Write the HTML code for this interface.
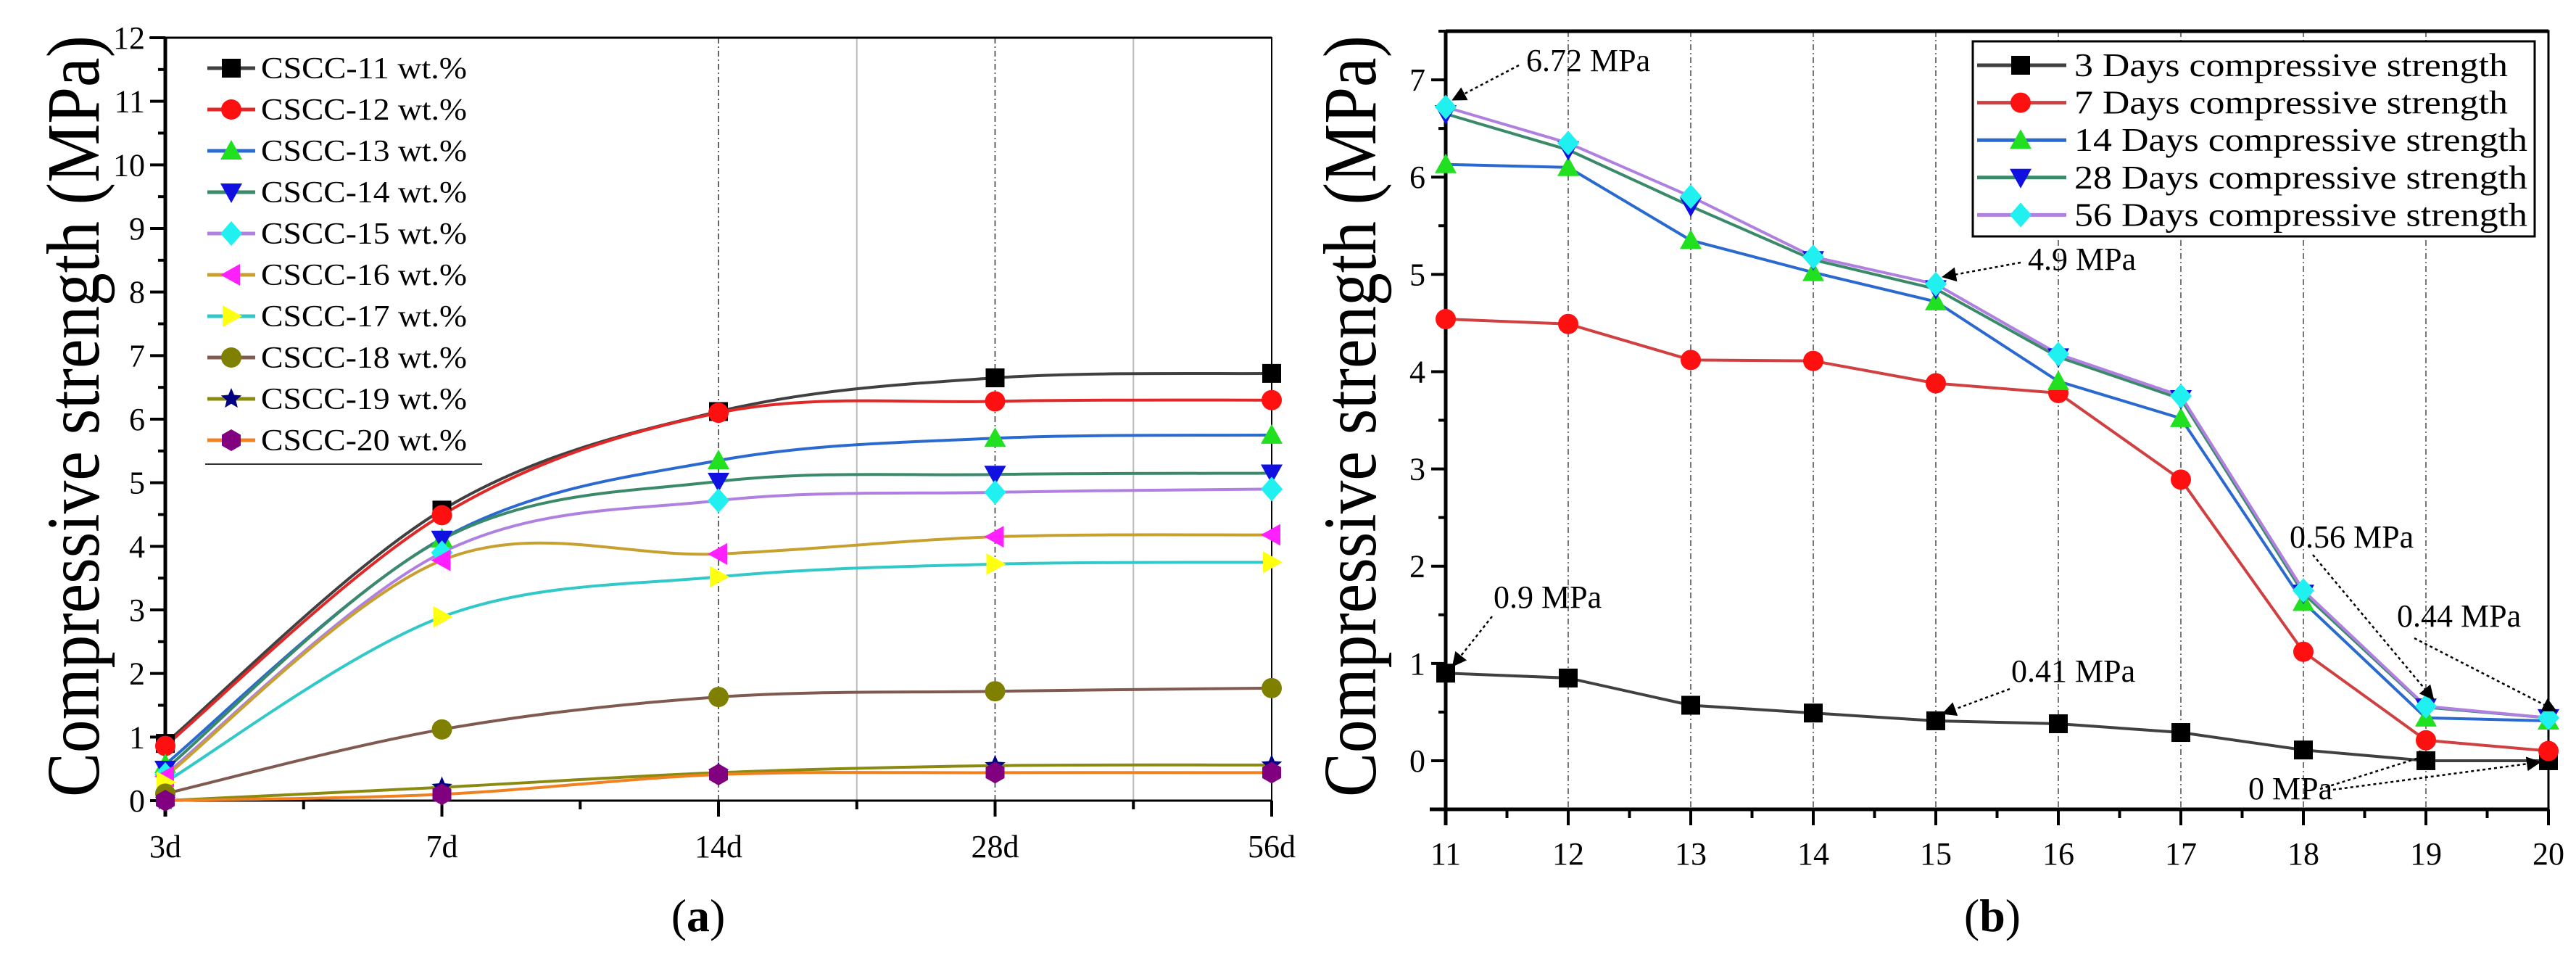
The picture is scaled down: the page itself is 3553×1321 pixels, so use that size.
<!DOCTYPE html>
<html><head><meta charset="utf-8"><style>
html,body{margin:0;padding:0;background:#fff;}
svg{display:block;font-family:"Liberation Serif",serif;}
text{font-family:"Liberation Serif",serif;}
</style></head><body>
<svg id="fig" width="3553" height="1321" viewBox="0 0 3553 1321" xmlns="http://www.w3.org/2000/svg">
<g id="chartA"></g>
<g id="chartB"></g>
</svg>
<script>
// ---------- Chart (a) data ----------
const catsA = ["3d","7d","14d","28d","56d"];
const namesA = ["CSCC-11 wt.%","CSCC-12 wt.%","CSCC-13 wt.%","CSCC-14 wt.%","CSCC-15 wt.%","CSCC-16 wt.%","CSCC-17 wt.%","CSCC-18 wt.%","CSCC-19 wt.%","CSCC-20 wt.%"];
const a11 = [0.9, 4.57, 6.12, 6.65, 6.72];
const a12 = [0.86, 4.49, 6.1, 6.28, 6.3];
const a13 = [0.57, 4.12, 5.35, 5.7, 5.75];
const a14 = [0.49, 4.11, 5.02, 5.13, 5.15];
const a15 = [0.41, 3.9, 4.72, 4.85, 4.9];
const a16 = [0.38, 3.78, 3.88, 4.15, 4.18];
const a17 = [0.29, 2.89, 3.52, 3.72, 3.75];
const a18 = [0.11, 1.12, 1.63, 1.72, 1.77];
const a19 = [0, 0.21, 0.44, 0.55, 0.56];
const a20 = [0, 0.1, 0.41, 0.44, 0.44];
const yTicksA = [0,1,2,3,4,5,6,7,8,9,10,11,12];
// ---------- Chart (b) data ----------
const catsB = [11,12,13,14,15,16,17,18,19,20];
const namesB = ["3 Days compressive strength","7 Days compressive strength","14 Days compressive strength","28 Days compressive strength","56 Days compressive strength"];
const b3 = [0.9, 0.85, 0.57, 0.49, 0.41, 0.38, 0.29, 0.11, 0, 0];
const b7 = [4.54, 4.49, 4.12, 4.11, 3.88, 3.78, 2.89, 1.12, 0.21, 0.1];
const b14 = [6.13, 6.1, 5.35, 5.02, 4.72, 3.9, 3.52, 1.63, 0.44, 0.41];
const b28 = [6.65, 6.28, 5.7, 5.15, 4.85, 4.15, 3.72, 1.72, 0.55, 0.44];
const b56 = [6.72, 6.35, 5.8, 5.18, 4.9, 4.18, 3.75, 1.75, 0.56, 0.44];
const yTicksB = [0,1,2,3,4,5,6,7];
const annotText = ["6.72 MPa","4.9 MPa","0.9 MPa","0.41 MPa","0.56 MPa","0.44 MPa","0 MPa"];

const NS="http://www.w3.org/2000/svg";
const FF='"Liberation Serif", serif';
function mk(parent,tag,attrs,text){const e=document.createElementNS(NS,tag);for(const k in attrs)e.setAttribute(k,attrs[k]);if(tag==="text")e.setAttribute("font-family",FF);if(text!==undefined)e.textContent=text;parent.appendChild(e);return e;}

function marker(g,type,x,y,fill){
  const s=15;let e;
  if(type==="square") e=mk(g,"rect",{x:x-s+2,y:y-s+2,width:2*s-4,height:2*s-4,fill:fill});
  else if(type==="circle") e=mk(g,"circle",{cx:x,cy:y,r:s-1,fill:fill});
  else if(type==="up") e=mk(g,"polygon",{points:`${x},${y-s} ${x+s},${y+s-3} ${x-s},${y+s-3}`,fill:fill});
  else if(type==="down") e=mk(g,"polygon",{points:`${x-s},${y-s+3} ${x+s},${y-s+3} ${x},${y+s}`,fill:fill});
  else if(type==="diamond") e=mk(g,"polygon",{points:`${x},${y-s-2} ${x+s},${y} ${x},${y+s+2} ${x-s},${y}`,fill:fill});
  else if(type==="left") e=mk(g,"polygon",{points:`${x-s},${y} ${x+s-3},${y-s} ${x+s-3},${y+s}`,fill:fill});
  else if(type==="right") e=mk(g,"polygon",{points:`${x+s},${y} ${x-s+3},${y-s} ${x-s+3},${y+s}`,fill:fill});
  else if(type==="hex") e=mk(g,"polygon",{points:[0,1,2,3,4,5].map(i=>{const a=Math.PI/3*i+Math.PI/6;return (x+s*Math.cos(a))+","+(y+s*Math.sin(a));}).join(" "),fill:fill});
  else if(type==="star"){let p=[];for(let i=0;i<10;i++){const r=i%2?s*0.45:s;const a=-Math.PI/2+i*Math.PI/5;p.push((x+r*Math.cos(a))+","+(y+r*Math.sin(a)));}e=mk(g,"polygon",{points:p.join(" "),fill:fill});}
  else e=mk(g,"circle",{cx:x,cy:y,r:s,fill:fill});
  
  
  return e;
}

// ================= Chart A =================
(function(){
  const g=document.getElementById("chartA");
  const L=228,R=1754,T=52,B=1104,ymin=0,ymax=12;
  const xS=i=>L+i*(R-L)/(catsA.length-1);
  const yS=v=>B-(v-ymin)/(ymax-ymin)*(B-T);
  const series=[a11,a12,a13,a14,a15,a16,a17,a18,a19,a20];
  const lineC=["#404040","#e02828","#2a6ad0","#3a8a6a","#b080e0","#c8a030","#30c8c8","#805a50","#8a8a10","#f08020"];
  const markC=["#000000","#ff1010","#20e020","#1010e0","#20f0f0","#ff20ff","#ffff10","#808000","#000080","#800080"];
  const mType=["square","circle","up","down","diamond","left","right","circle","star","hex"];
  [2,3].forEach(i=>{const l=mk(g,"line",{x1:xS(i),x2:xS(i),y1:T,y2:B,stroke:"#666","stroke-width":2,"stroke-dasharray":"8 4 2 4"});});
  [2.5,3.5].forEach(i=>{const l=mk(g,"line",{x1:xS(i),x2:xS(i),y1:T,y2:B,stroke:"#bbb","stroke-width":2});});
  const fr=mk(g,"rect",{x:L,y:T,width:R-L,height:B-T,fill:"none",stroke:"#000","stroke-width":2});
  
  mk(g,"line",{x1:L,x2:L,y1:T,y2:B+22,stroke:"#000","stroke-width":5});
  mk(g,"line",{x1:L-22,x2:R,y1:T,y2:T,stroke:"#000","stroke-width":3});
  mk(g,"line",{x1:L,x2:R,y1:B,y2:B,stroke:"#000","stroke-width":3});
  yTicksA.forEach(v=>{
    mk(g,"line",{x1:L-21,x2:L,y1:yS(v),y2:yS(v),stroke:"#000","stroke-width":4});
    if(v<12) mk(g,"line",{x1:L-10,x2:L,y1:yS(v+0.5),y2:yS(v+0.5),stroke:"#000","stroke-width":4});
    const t=mk(g,"text",{x:L-28,y:yS(v)+15,"text-anchor":"end","font-size":44},String(v));
    
  });
  catsA.forEach((c,i)=>{
    mk(g,"line",{x1:xS(i),x2:xS(i),y1:B,y2:B+22,stroke:"#000","stroke-width":4});
    if(i<catsA.length-1) mk(g,"line",{x1:xS(i+0.5),x2:xS(i+0.5),y1:B,y2:B+12,stroke:"#000","stroke-width":4});
    const t=mk(g,"text",{x:xS(i),y:B+78,"text-anchor":"middle","font-size":44},c);
    
  });
  series.forEach((s,k)=>{
    const pts=s.map((v,i)=>[xS(i),yS(v)]);
    let d="M"+pts[0][0]+","+pts[0][1];
    for(let i=0;i<pts.length-1;i++){
      const p0=pts[Math.max(0,i-1)],p1=pts[i],p2=pts[i+1],p3=pts[Math.min(pts.length-1,i+2)];
      const c1=[p1[0]+(p2[0]-p0[0])/6,p1[1]+(p2[1]-p0[1])/6];
      const c2=[p2[0]-(p3[0]-p1[0])/6,p2[1]-(p3[1]-p1[1])/6];
      d+=` C${c1[0]},${c1[1]} ${c2[0]},${c2[1]} ${p2[0]},${p2[1]}`;
    }
    const p=mk(g,"path",{d:d,fill:"none",stroke:lineC[k],"stroke-width":4});
    
  });
  series.forEach((s,k)=>s.forEach((v,i)=>marker(g,mType[k],xS(i),yS(v),markC[k])));
  const lg=mk(g,"g",{});
  
  namesA.forEach((n,k)=>{
    const y=94+k*57;
    mk(lg,"line",{x1:286,x2:352,y1:y,y2:y,stroke:lineC[k],"stroke-width":5});
    marker(lg,mType[k],319,y,markC[k]);
    const t=mk(lg,"text",{x:360,y:y+14,"font-size":42,textLength:284,lengthAdjust:"spacingAndGlyphs"},n);
    
  });
  mk(lg,"line",{x1:283,x2:665,y1:640,y2:640,stroke:"#333","stroke-width":2});
  const yt=mk(g,"text",{transform:"translate(136,574) rotate(-90)","text-anchor":"middle","font-size":104,textLength:1050,lengthAdjust:"spacingAndGlyphs"},"Compressive strength (MPa)");
  
  const cap=mk(g,"text",{x:963,y:1284,"text-anchor":"middle","font-size":64},"");
  
  mk(cap,"tspan",{},"(");mk(cap,"tspan",{"font-weight":"bold"},"a");mk(cap,"tspan",{},")");
})();

// ================= Chart B =================
(function(){
  const g=document.getElementById("chartB");
  const L=1994,R=3515,T=43,B=1116,ymin=-0.5,ymax=7.5;
  const xS=v=>L+(v-catsB[0])/(catsB[catsB.length-1]-catsB[0])*(R-L);
  const yS=v=>B-(v-ymin)/(ymax-ymin)*(B-T);
  const series=[b3,b7,b14,b28,b56];
  const lineC=["#404040","#d04040","#2a6ad0","#3a8a6a","#b080e0"];
  const markC=["#000000","#ff1010","#20e020","#1010e0","#20f0f0"];
  const mType=["square","circle","up","down","diamond"];
  catsB.slice(1,-1).forEach(c=>{const l=mk(g,"line",{x1:xS(c),x2:xS(c),y1:T,y2:B,stroke:"#777","stroke-width":2,"stroke-dasharray":"8 4 2 4"});});
  const fr=mk(g,"rect",{x:L,y:T,width:R-L,height:B-T,fill:"none",stroke:"#000","stroke-width":3});
  
  mk(g,"line",{x1:L,x2:L,y1:T,y2:B+22,stroke:"#000","stroke-width":5});
  mk(g,"line",{x1:L-22,x2:R,y1:B,y2:B,stroke:"#000","stroke-width":5});
  mk(g,"line",{x1:L,x2:R,y1:T,y2:T,stroke:"#000","stroke-width":5});
  yTicksB.forEach(v=>{
    mk(g,"line",{x1:L-20,x2:L,y1:yS(v),y2:yS(v),stroke:"#000","stroke-width":4});
    mk(g,"line",{x1:L-10,x2:L,y1:yS(v+0.5),y2:yS(v+0.5),stroke:"#000","stroke-width":4});
    const t=mk(g,"text",{x:L-28,y:yS(v)+15,"text-anchor":"end","font-size":44},String(v));
    
  });
  mk(g,"line",{x1:L-10,x2:L,y1:yS(-0.5),y2:yS(-0.5),stroke:"#000","stroke-width":4});
  catsB.forEach((c,i)=>{
    mk(g,"line",{x1:xS(c),x2:xS(c),y1:B,y2:B+22,stroke:"#000","stroke-width":4});
    if(i<catsB.length-1) mk(g,"line",{x1:xS(c+0.5),x2:xS(c+0.5),y1:B,y2:B+12,stroke:"#000","stroke-width":4});
    const t=mk(g,"text",{x:xS(c),y:B+76,"text-anchor":"middle","font-size":44},String(c));
    
  });
  series.forEach((s,k)=>{
    const p=mk(g,"polyline",{points:s.map((v,i)=>xS(catsB[i])+","+yS(v)).join(" "),fill:"none",stroke:lineC[k],"stroke-width":4});
    
  });
  series.forEach((s,k)=>s.forEach((v,i)=>marker(g,mType[k],xS(catsB[i]),yS(v),markC[k])));
  const defs=mk(g,"defs",{});
  const m=mk(defs,"marker",{id:"arr",viewBox:"0 0 10 10",refX:9,refY:5,markerWidth:8,markerHeight:8,orient:"auto-start-reverse"});
  mk(m,"path",{d:"M0,0 L10,5 L0,10 z",fill:"#000"});
  const ann=[
    [annotText[0],2105,98,2095,90,11,b56[0]],
    [annotText[1],2797,372,2787,362,15,b56[4]],
    [annotText[2],2060,838,2058,850,11,b3[0]],
    [annotText[3],2774,940,2772,950,15,b3[4]],
    [annotText[4],3158,755,3190,765,19,b56[8]],
    [annotText[5],3306,864,3330,880,20,b56[9]],
    [annotText[6],3101,1102,3200,1088,19,b3[8]]
  ];
  ann.forEach(a=>{
    const t=mk(g,"text",{x:a[1],y:a[2],"font-size":44},a[0]);
    
    const l=mk(g,"line",{x1:a[3],y1:a[4],x2:xS(a[5])+10,y2:yS(a[6])-10,stroke:"#000","stroke-width":2.5,"stroke-dasharray":"4 4","marker-end":"url(#arr)"});
    
  });
  const l2=mk(g,"line",{x1:3210,y1:1090,x2:xS(20)-12,y2:yS(b3[9])+2,stroke:"#000","stroke-width":2.5,"stroke-dasharray":"4 4","marker-end":"url(#arr)"});
  
  const lg=mk(g,"g",{});
  
  mk(lg,"rect",{x:2721,y:57,width:775,height:269,fill:"#fff",stroke:"#000","stroke-width":3});
  namesB.forEach((n,k)=>{
    const y=90+k*51.6;
    mk(lg,"line",{x1:2727,x2:2850,y1:y,y2:y,stroke:lineC[k],"stroke-width":5});
    marker(lg,mType[k],2787,y,markC[k]);
    const w=n.length===27?598:625;
    const t=mk(lg,"text",{x:2861,y:y+15,"font-size":45,textLength:w,lengthAdjust:"spacingAndGlyphs"},n);
    
  });
  const yt=mk(g,"text",{transform:"translate(1897,574) rotate(-90)","text-anchor":"middle","font-size":104,textLength:1050,lengthAdjust:"spacingAndGlyphs"},"Compressive strength (MPa)");
  
  const cap=mk(g,"text",{x:2748,y:1284,"text-anchor":"middle","font-size":64},"");
  
  mk(cap,"tspan",{},"(");mk(cap,"tspan",{"font-weight":"bold"},"b");mk(cap,"tspan",{},")");
})();
</script>
</body></html>
